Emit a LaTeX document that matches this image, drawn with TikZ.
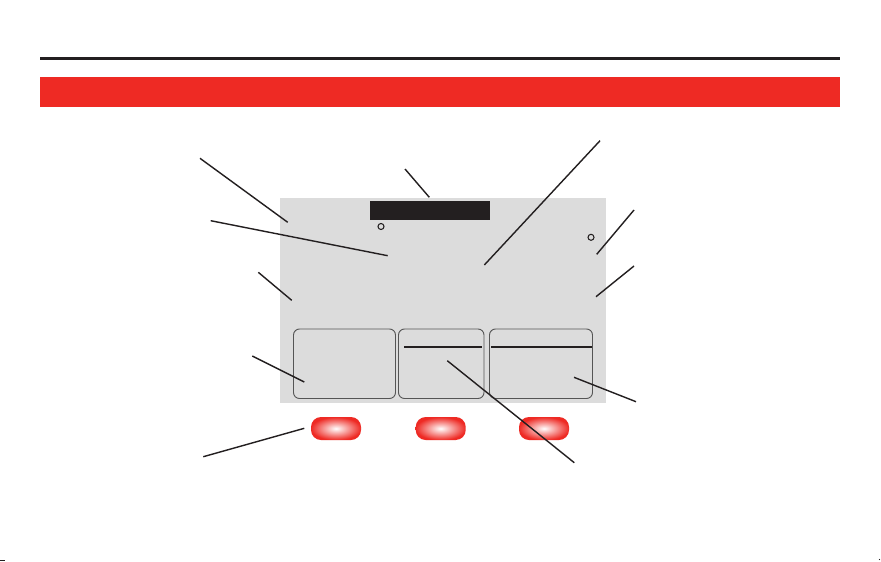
\documentclass[tikz,border=0pt]{standalone}
\usetikzlibrary{positioning}
\definecolor{bandred}{RGB}{238,42,36}
\definecolor{screengray}{RGB}{220,220,220}
\definecolor{keyrim}{RGB}{85,85,85}
\definecolor{inkblack}{RGB}{35,31,32}

\begin{document}
\begin{tikzpicture}[x=0.03cm,y=-0.03cm,
  lead/.style={inkblack,line width=1.2pt},
  softkey/.style={draw=keyrim,line width=0.8pt,rounded corners=0.18cm},
  pushbtn/.style={inner color=white,outer color=bandred,rounded corners=0.3cm}]
\useasboundingbox (0,0) rectangle (881,561);
\fill[white] (0,0) rectangle (881,561);

% header rule and red band
\draw[inkblack,line width=2pt] (40,58.5) -- (840,58.5);
\fill[bandred] (40,77) rectangle (840,106.5);

% display
\fill[screengray] (280,197.5) rectangle (606,403);
\fill[inkblack] (369.5,201) rectangle (490,220);
\draw[inkblack,line width=0.9pt] (381,226.5) circle (0.09cm);
\draw[inkblack,line width=0.9pt] (591,237.3) circle (0.09cm);

% soft keys on the screen
\draw[softkey] (293.5,329) rectangle (395.5,398.5);
\draw[softkey] (398.5,329) rectangle (484,398.5);
\draw[softkey] (489.5,329) rectangle (592.5,398.5);
\draw[inkblack,line width=1.4pt] (404,346.7) -- (481.5,346.7);
\draw[inkblack,line width=1.4pt] (491,346.7) -- (592,346.7);

% push buttons
\shade[pushbtn] (311,417) rectangle (361,440);
\shade[pushbtn] (415.7,417) rectangle (465.7,440);
\shade[pushbtn] (519,417) rectangle (569,440);

% callout ends
\coordinate (c1) at (200,158.3);   \coordinate (c1 tip) at (287.7,222.3);
\coordinate (c2) at (210.7,220.7); \coordinate (c2 tip) at (387.7,255.7);
\coordinate (c3) at (258.3,272.3); \coordinate (c3 tip) at (291.7,300.3);
\coordinate (c4) at (252.3,356);   \coordinate (c4 tip) at (304.3,382);
\coordinate (c5) at (203.3,456.7); \coordinate (c5 tip) at (304.3,428.3);
\coordinate (c6) at (405,169);     \coordinate (c6 tip) at (429.3,197.3);
\coordinate (c7) at (600,140.7);   \coordinate (c7 tip) at (484.3,265);
\coordinate (c8) at (634,210);     \coordinate (c8 tip) at (596.7,254.3);
\coordinate (c9) at (634,266);     \coordinate (c9 tip) at (596,296.7);
\coordinate (c10) at (636,401.7);  \coordinate (c10 tip) at (574,377.3);
\coordinate (c11) at (574.3,462.7); \coordinate (c11 tip) at (447.3,360.7);

% callout lines
\draw[lead] (c1) -- (c1 tip);
\draw[lead] (c2) -- (c2 tip);
\draw[lead] (c3) -- (c3 tip);
\draw[lead] (c4) -- (c4 tip);
\draw[lead] (c5) -- (c5 tip);
\draw[lead] (c6) -- (c6 tip);
\draw[lead] (c7) -- (c7 tip);
\draw[lead] (c8) -- (c8 tip);
\draw[lead] (c9) -- (c9 tip);
\draw[lead] (c10) -- (c10 tip);
\draw[lead] (c11) -- (c11 tip);

% crop marks
\draw[inkblack,line width=0.6pt] (0,560) -- (5,560);
\fill[inkblack] (879.5,559.5) circle (0.02cm);

\end{tikzpicture}
\end{document}
